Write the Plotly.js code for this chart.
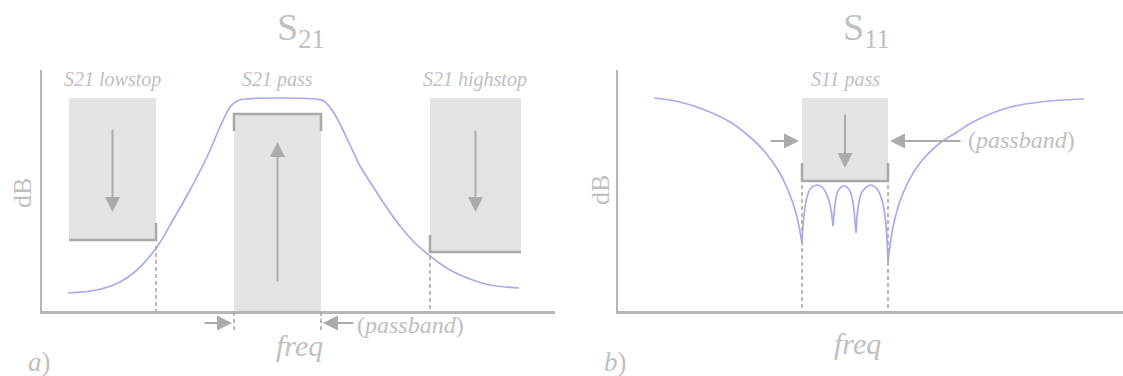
<!DOCTYPE html>
<html>
<head>
<meta charset="utf-8">
<script src="https://cdn.plot.ly/plotly-3.0.1.min.js"></script>
<style>html,body{margin:0;padding:0;background:#fff;}#chart{width:1123px;height:376px;}</style>
</head>
<body>
<div id="chart"></div>
<script>
// ---------------- data ----------------
// S21 response (freq units, level units above axis floor)
const s21Freq  = [26,55,78,95,115,131,148,165,178,188,195,203,274,282,290,298,308,318,330,343,358,373,388,408,428,448,477];
const s21Level = [18,21,29,41,64,91,121,154,184,204,210,212,212,210,201,187,166,145,126,106,85,68,55,41,32,26,23];

// S11 response, split at its reflection zeros
const s11OuterLowFreq   = [36,62,87,112,132,147,160,170,178,184];
const s11OuterLowLevel  = [213,209,201,189,174,159,141,121,98,68];
const s11Ripple1Freq    = [184,186,189,193,199,205,210,213,215];
const s11Ripple1Level   = [68,96,114,123,126,123,113,101,85];
const s11Ripple2Freq    = [215,217,220,226,232,235,238];
const s11Ripple2Level   = [85,106,120,125,120,108,78];
const s11Ripple3Freq    = [238,240,244,252,259,264,268,270];
const s11Ripple3Level   = [78,103,119,126,122,111,86,48];
const s11OuterHighFreq  = [270,275,285,302,322,339,355,389,422,466];
const s11OuterHighLevel = [48,84,118,148,168,179,189,203,209,212];

// S21 masks
const s21MaskNames   = ['S21 lowstop','S21 pass','S21 highstop'];
const s21MaskStart   = [27,192,388];
const s21MaskStop    = [114,279,479];
const s21MaskTop     = [213,197,213];
const s21MaskLimit   = [71,197,59];
// S11 mask
const s11MaskName  = 'S11 pass';
const s11MaskStart = 184;
const s11MaskStop  = 270;
const s11MaskTop   = 213;
const s11MaskLimit = 130;

// ---------------- styling ----------------
const W = 1123, H = 376;
const PX = x => x / W;
const PY = y => 1 - y / H;
const TXT = '#c0c0c0';
const AXC = '#b6b6b6';
const BOX = '#e4e4e4';
const BRK = '#a9a9a9';
const ARR = '#ababab';
const CURVE = '#aaaaf0';
const FONT = 'Liberation Serif, Times New Roman, serif';

function curve(x, y, xa, ya) {
  return {x: x, y: y, xaxis: xa, yaxis: ya, type: 'scatter', mode: 'lines',
          line: {color: CURVE, width: 1.7, shape: 'spline', smoothing: 0.9},
          hoverinfo: 'skip', cliponaxis: false};
}

const data = [
  curve(s21Freq, s21Level, 'x', 'y'),
  curve(s11OuterLowFreq, s11OuterLowLevel, 'x2', 'y2'),
  curve(s11Ripple1Freq, s11Ripple1Level, 'x2', 'y2'),
  curve(s11Ripple2Freq, s11Ripple2Level, 'x2', 'y2'),
  curve(s11Ripple3Freq, s11Ripple3Level, 'x2', 'y2'),
  curve(s11OuterHighFreq, s11OuterHighLevel, 'x2', 'y2')
];

const shapes = [];
const annotations = [];

// S21 mask boxes
for (let i = 0; i < 3; i++) {
  const bottom = (i === 1) ? 0 : s21MaskLimit[i];
  shapes.push({type: 'rect', xref: 'x', yref: 'y', x0: s21MaskStart[i], x1: s21MaskStop[i],
               y0: bottom, y1: s21MaskTop[i], fillcolor: BOX, line: {width: 0}, layer: 'below'});
}
// brackets
const tick = 17;
const lo = 0, pa = 1, hi = 2;
shapes.push({type: 'path', xref: 'x', yref: 'y', layer: 'above', line: {color: BRK, width: 2.5},
  path: `M ${s21MaskStart[lo]},${s21MaskLimit[lo]} L ${s21MaskStop[lo]},${s21MaskLimit[lo]} L ${s21MaskStop[lo]},${s21MaskLimit[lo]+tick}`});
shapes.push({type: 'path', xref: 'x', yref: 'y', layer: 'above', line: {color: BRK, width: 2.5},
  path: `M ${s21MaskStart[pa]},${s21MaskLimit[pa]-tick} L ${s21MaskStart[pa]},${s21MaskLimit[pa]} L ${s21MaskStop[pa]},${s21MaskLimit[pa]} L ${s21MaskStop[pa]},${s21MaskLimit[pa]-tick}`});
shapes.push({type: 'path', xref: 'x', yref: 'y', layer: 'above', line: {color: BRK, width: 2.5},
  path: `M ${s21MaskStart[hi]},${s21MaskLimit[hi]+tick} L ${s21MaskStart[hi]},${s21MaskLimit[hi]} L ${s21MaskStop[hi]},${s21MaskLimit[hi]}`});
// dashed drop lines S21
shapes.push({type: 'line', xref: 'x', yref: 'y', x0: s21MaskStop[lo], x1: s21MaskStop[lo], y0: s21MaskLimit[lo]-6, y1: 0,
             line: {color: '#a8a8a8', width: 1.6, dash: '4px,3px'}});
shapes.push({type: 'line', xref: 'x', yref: 'y', x0: s21MaskStart[hi], x1: s21MaskStart[hi], y0: s21MaskLimit[hi]-4, y1: 0,
             line: {color: '#a8a8a8', width: 1.6, dash: '4px,3px'}});
[s21MaskStart[pa], s21MaskStop[pa]].forEach(f => {
  shapes.push({type: 'line', xref: 'x', yref: 'paper', x0: f, x1: f, y0: PY(312), y1: PY(333),
               line: {color: '#a8a8a8', width: 1.6, dash: '4px,3px'}});
});

// S11 mask
shapes.push({type: 'rect', xref: 'x2', yref: 'y2', x0: s11MaskStart, x1: s11MaskStop, y0: s11MaskLimit, y1: s11MaskTop,
             fillcolor: BOX, line: {width: 0}, layer: 'below'});
shapes.push({type: 'path', xref: 'x2', yref: 'y2', layer: 'above', line: {color: BRK, width: 2.5},
  path: `M ${s11MaskStart},${s11MaskLimit+18} L ${s11MaskStart},${s11MaskLimit} L ${s11MaskStop},${s11MaskLimit} L ${s11MaskStop},${s11MaskLimit+18}`});
[s11MaskStart, s11MaskStop].forEach(f => {
  shapes.push({type: 'line', xref: 'x2', yref: 'y2', x0: f, x1: f, y0: s11MaskLimit - 4, y1: 0,
               line: {color: '#a8a8a8', width: 1.6, dash: '4px,3px'}});
});

// arrows
function arrow(xr, yr, x, y, ax, ay) {
  annotations.push({xref: xr, yref: yr, axref: xr, ayref: yr, x: x, y: y, ax: ax, ay: ay, text: '',
    showarrow: true, arrowhead: 2, arrowsize: 1.5, arrowwidth: 2, arrowcolor: ARR, standoff: 0, startstandoff: 0});
}
arrow('x', 'y', (s21MaskStart[lo]+s21MaskStop[lo])/2, 99, (s21MaskStart[lo]+s21MaskStop[lo])/2, 183);
arrow('x', 'y', (s21MaskStart[pa]+s21MaskStop[pa])/2, 169, (s21MaskStart[pa]+s21MaskStop[pa])/2, 28);
arrow('x', 'y', (s21MaskStart[hi]+s21MaskStop[hi])/2, 99, (s21MaskStart[hi]+s21MaskStop[hi])/2, 182);
arrow('x2', 'y2', (s11MaskStart+s11MaskStop)/2, 143, (s11MaskStart+s11MaskStop)/2, 198);
arrow('x2', 'y2', s11MaskStart - 3, 170, s11MaskStart - 33, 170);
arrow('x2', 'y2', s11MaskStop + 2, 170, s11MaskStop + 74, 170);
// passband arrows below S21 axis (paper y)
annotations.push({xref: 'x', yref: 'paper', axref: 'x', ayref: 'paper', x: s21MaskStart[pa]-2, y: PY(323), ax: s21MaskStart[pa]-31, ay: PY(323),
  text: '', showarrow: true, arrowhead: 2, arrowsize: 1.5, arrowwidth: 2, arrowcolor: ARR, standoff: 0});
annotations.push({xref: 'x', yref: 'paper', axref: 'x', ayref: 'paper', x: s21MaskStop[pa]+2, y: PY(323), ax: s21MaskStop[pa]+34, ay: PY(323),
  text: '', showarrow: true, arrowhead: 2, arrowsize: 1.5, arrowwidth: 2, arrowcolor: ARR, standoff: 0});

// texts
function label(text, x, y, size, anchor) {
  annotations.push({xref: 'paper', yref: 'paper', x: PX(x), y: PY(y), text: text, showarrow: false,
    xanchor: anchor || 'center', yanchor: 'middle', font: {family: FONT, size: size, color: TXT}});
}
label('S<sub>21</sub>', 301, 30, 38);
label('S<sub>11</sub>', 866, 30, 38);
label('<i>' + s21MaskNames[0] + '</i>', 112, 80, 20);
label('<i>' + s21MaskNames[1] + '</i>', 277, 80, 20);
label('<i>' + s21MaskNames[2] + '</i>', 475, 80, 20);
label('<i>' + s11MaskName + '</i>', 845, 80, 20);
label('(<i>passband</i>)', 410, 325, 24);
label('(<i>passband</i>)', 1021, 140, 24);
label('<i>freq</i>', 299, 345, 30);
label('<i>freq</i>', 857, 343, 30);
label('<i>a</i>)', 39, 362, 27);
label('<i>b</i>)', 615, 362, 27);
annotations.push({xref: 'paper', yref: 'paper', x: PX(22), y: PY(193), text: 'dB', textangle: -90, showarrow: false,
  xanchor: 'center', yanchor: 'middle', font: {family: FONT, size: 26, color: TXT}});
annotations.push({xref: 'paper', yref: 'paper', x: PX(600), y: PY(190), text: 'dB', textangle: -90, showarrow: false,
  xanchor: 'center', yanchor: 'middle', font: {family: FONT, size: 26, color: TXT}});

const axisBase = {showline: true, linecolor: AXC, linewidth: 2.5, showgrid: false, zeroline: false,
                  showticklabels: false, ticks: '', fixedrange: true, mirror: false};
const layout = {
  width: W, height: H, margin: {l: 0, r: 0, t: 0, b: 0, pad: 0},
  paper_bgcolor: '#ffffff', plot_bgcolor: '#ffffff', showlegend: false,
  xaxis:  Object.assign({}, axisBase, {domain: [PX(42), PX(555)], range: [0, 513], anchor: 'y'}),
  yaxis:  Object.assign({}, axisBase, {domain: [PY(311), PY(70)], range: [0, 241], anchor: 'x'}),
  xaxis2: Object.assign({}, axisBase, {domain: [PX(618), 1], range: [0, 505], anchor: 'y2'}),
  yaxis2: Object.assign({}, axisBase, {domain: [PY(311), PY(70)], range: [0, 241], anchor: 'x2'}),
  shapes: shapes, annotations: annotations
};
Plotly.newPlot('chart', data, layout, {staticPlot: true, displayModeBar: false});
</script>
</body>
</html>
